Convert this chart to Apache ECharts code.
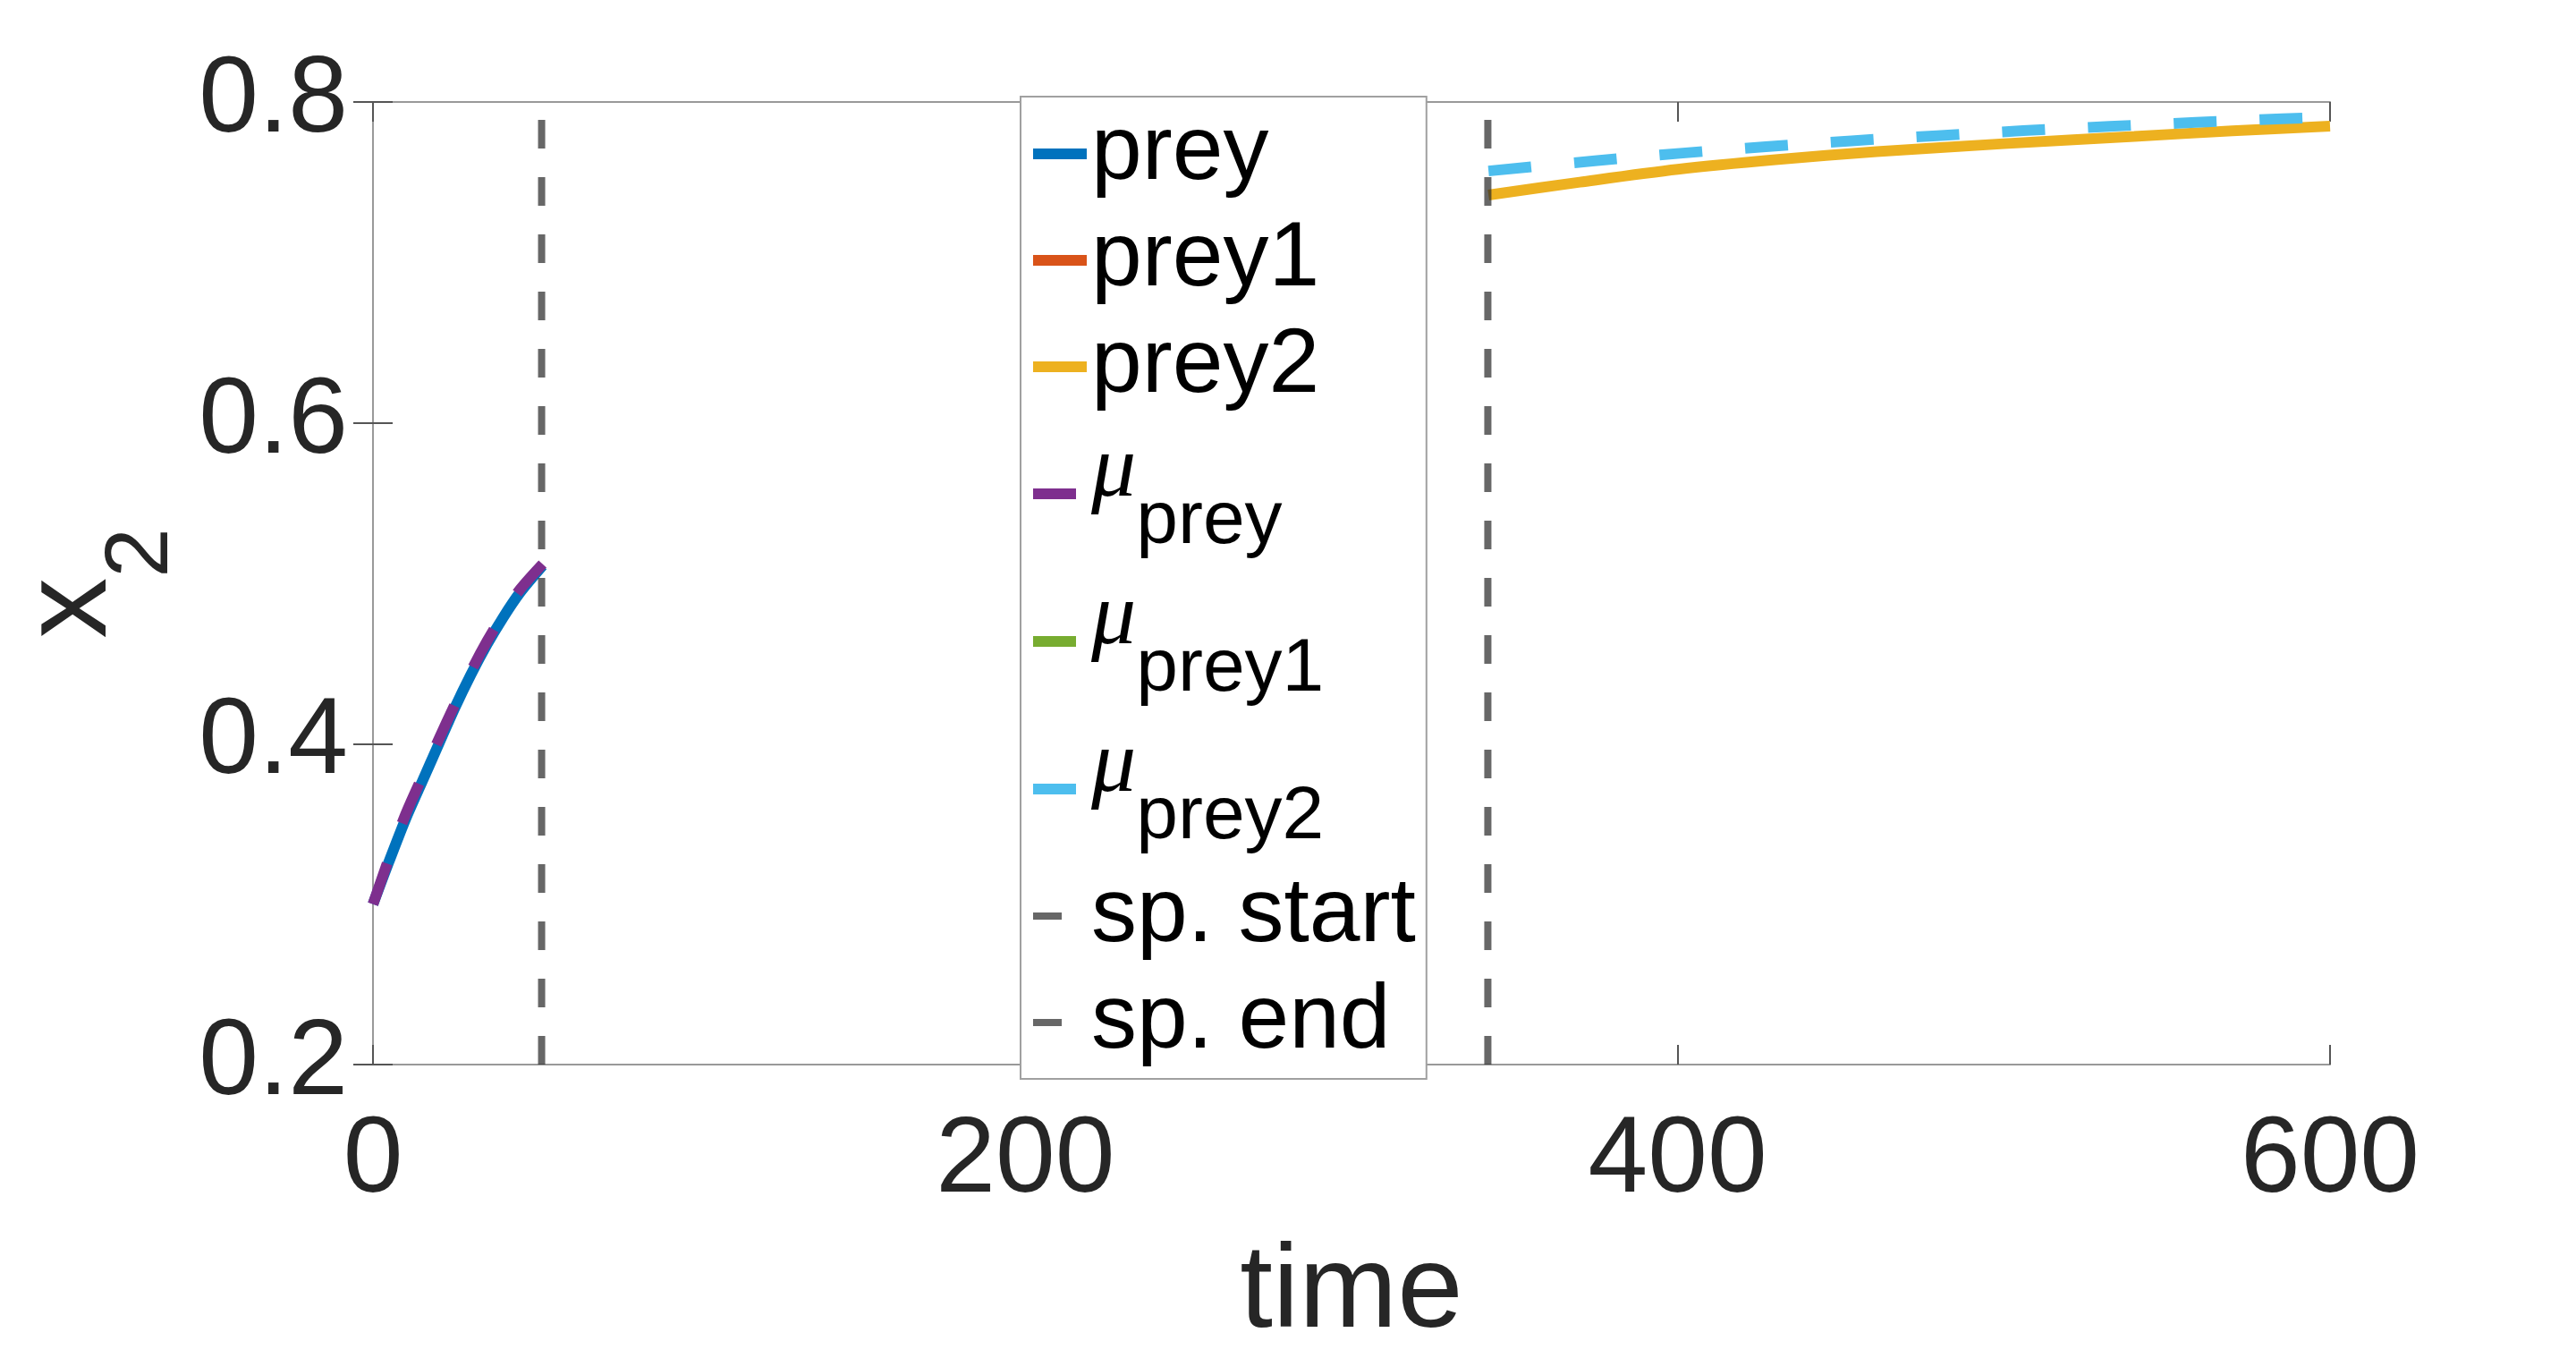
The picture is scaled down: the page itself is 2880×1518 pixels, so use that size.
<!DOCTYPE html>
<html>
<head>
<meta charset="utf-8">
<title>x2 over time</title>
<script src="https://cdn.jsdelivr.net/npm/echarts@6/dist/echarts.min.js"></script>
<style>
  html, body { margin: 0; padding: 0; background: #fff; }
  #chart { width: 2880px; height: 1518px; }
</style>
</head>
<body>
<div id="chart"></div>
<script>
// values
const preyTime = [0, 5, 10, 15, 20, 25, 30, 35, 40, 45, 52]
const preyValues = [0.300, 0.327, 0.353, 0.376, 0.399, 0.422, 0.443, 0.462, 0.479, 0.494, 0.511]
const muPreyValues = [0.300, 0.329, 0.356, 0.379, 0.402, 0.424, 0.445, 0.464, 0.481, 0.496, 0.512]

const prey2Time = [342, 370, 400, 430, 461, 500, 540, 570, 600]
const prey2Values = [0.742, 0.750, 0.758, 0.764, 0.769, 0.774, 0.7785, 0.782, 0.785]
const muPrey2Time = [342, 374.6, 400.7, 427, 453.3, 479.5, 505.9, 532.4, 558.9, 585.4, 600]
const muPrey2Values = [0.757, 0.7633, 0.768, 0.7721, 0.7758, 0.779, 0.7821, 0.7848, 0.7873, 0.7895, 0.7906]

// prey1 and mu_prey1 only show up in the legend
const prey1Values = []
const muPrey1Values = []

const spStart = 51.7
const spEnd = 341.8

const xRange = [0, 600, 200] // min, max, step
const yRange = [0.2, 0.8, 0.2]
const legendNames = ['prey', 'prey1', 'prey2', 'mu_prey', 'mu_prey1', 'mu_prey2', 'sp. start', 'sp. end']

const SANS = 'Liberation Sans'
const AXIS_TEXT = '#262626'

const pairs = (xs, ys) => ys.map((y, i) => [xs[i], y])
const vline = x => [[x, yRange[0]], [x, yRange[1]]]

const chart = echarts.init(document.getElementById('chart'))

const baseX = {
  type: 'value',
  min: xRange[0],
  max: xRange[1],
  interval: xRange[2],
  axisLine: { show: true, lineStyle: { color: '#999', width: 2 } },
  axisTick: { show: true, inside: true, length: 22, lineStyle: { color: '#555', width: 2 } },
  splitLine: { show: false }
}
const baseY = {
  type: 'value',
  min: yRange[0],
  max: yRange[1],
  interval: yRange[2],
  axisLine: { show: true, lineStyle: { color: '#999', width: 2 } },
  axisTick: { show: true, inside: true, length: 22, lineStyle: { color: '#555', width: 2 } },
  splitLine: { show: false }
}

function curve(name, data, color, dashed) {
  return {
    name: name,
    type: 'line',
    data: data,
    symbol: 'none',
    smooth: 0.3,
    lineStyle: { color: color, width: 12, type: dashed ? [48, 48] : 'solid' },
    itemStyle: { color: color },
    emphasis: { disabled: true }
  }
}

function marker(name, x) {
  return {
    name: name,
    type: 'line',
    data: vline(x),
    symbol: 'none',
    lineStyle: { color: 'rgba(38,38,38,0.7)', width: 8, type: [32, 32] },
    itemStyle: { color: 'rgba(38,38,38,0.7)' },
    emphasis: { disabled: true }
  }
}

chart.setOption({
  animation: false,
  backgroundColor: '#fff',
  grid: { left: 417, right: 275, top: 114, bottom: 328 },
  xAxis: [
    Object.assign({}, baseX, {
      position: 'bottom',
      name: 'time',
      nameLocation: 'middle',
      nameGap: 191,
      nameTextStyle: { fontFamily: SANS, fontSize: 132, lineHeight: 132, color: AXIS_TEXT },
      axisLabel: { fontFamily: SANS, fontSize: 120, lineHeight: 120, color: AXIS_TEXT, margin: 49 }
    }),
    Object.assign({}, baseX, { position: 'top', axisLabel: { show: false } })
  ],
  yAxis: [
    Object.assign({}, baseY, {
      position: 'left',
      name: '{x|x}{s|2}',
      nameLocation: 'middle',
      nameGap: 208,
      nameTextStyle: {
        rich: {
          x: { fontFamily: SANS, fontSize: 136, color: AXIS_TEXT, verticalAlign: 'top', lineHeight: 197 },
          s: { fontFamily: SANS, fontSize: 100, color: AXIS_TEXT, verticalAlign: 'bottom' }
        }
      },
      axisLabel: {
        fontFamily: SANS, fontSize: 120, lineHeight: 120, color: AXIS_TEXT, margin: 28,
        formatter: v => v.toFixed(1)
      }
    }),
    Object.assign({}, baseY, { position: 'right', axisLabel: { show: false } })
  ],
  legend: {
    data: legendNames,
    orient: 'vertical',
    left: 1141,
    top: 108,
    padding: [13, 12, 12, 8],
    itemGap: 17,
    itemWidth: 60,
    itemHeight: 12,
    selectedMode: false,
    backgroundColor: '#fff',
    borderColor: '#a0a0a0',
    borderWidth: 2,
    borderRadius: 0,
    itemStyle: { opacity: 0 },
    lineStyle: { width: 'inherit' },
    formatter: function(name) {
      if (name.indexOf('mu_') === 0) {
        return '{mu|μ}{sub|' + name.slice(3) + '}'
      }
      return '{txt|' + name + '}'
    },
    textStyle: {
      rich: {
        txt: { fontFamily: SANS, fontSize: 102, lineHeight: 102, color: '#000' },
        mu: { fontFamily: 'Liberation Serif', fontStyle: 'italic', fontSize: 100, color: '#000', verticalAlign: 'top', lineHeight: 148 },
        sub: { fontFamily: SANS, fontSize: 84, color: '#000', verticalAlign: 'bottom' }
      }
    }
  },
  series: [
    curve('prey', pairs(preyTime, preyValues), '#0072BD', false),
    curve('prey1', prey1Values, '#D95319', false),
    curve('prey2', pairs(prey2Time, prey2Values), '#EDB120', false),
    curve('mu_prey', pairs(preyTime, muPreyValues), '#7E2F8E', true),
    curve('mu_prey1', muPrey1Values, '#77AC30', true),
    curve('mu_prey2', pairs(muPrey2Time, muPrey2Values), '#4DBEEE', true),
    marker('sp. start', spStart),
    marker('sp. end', spEnd)
  ]
})
</script>
</body>
</html>
